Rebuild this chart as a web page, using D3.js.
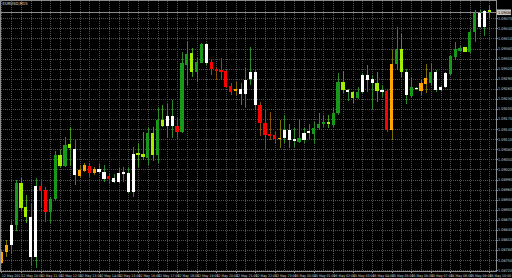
<!DOCTYPE html>
<html>
<head>
<meta charset="utf-8">
<script src="https://cdn.jsdelivr.net/npm/d3@7/dist/d3.min.js"></script>
<style>
  html, body { margin: 0; padding: 0; background: #000; }
  svg { display: block; }
  text { font-family: "Liberation Sans Narrow", "DejaVu Sans Condensed", "Liberation Sans", Arial, sans-serif; }
</style>
</head>
<body>
<svg id="chart" width="512" height="278"></svg>
<script>
var symbol = "EURUSD,M15";

var timeLabels = [
  "12 May 2017", "12 May 10:00", "12 May 11:00", "12 May 12:00", "12 May 13:00",
  "12 May 14:00", "12 May 15:00", "12 May 16:00", "12 May 17:00", "12 May 18:00",
  "12 May 19:00", "12 May 20:00", "12 May 21:00", "12 May 22:00", "12 May 23:00",
  "15 May 00:00", "15 May 01:00", "15 May 02:00", "15 May 03:00", "15 May 04:00",
  "15 May 05:00", "15 May 06:00", "15 May 07:00", "15 May 08:00", "15 May 09:00",
  "15 May 10:00"
];

var priceTicks = [
  1.08720, 1.08750, 1.08780, 1.08810, 1.08840, 1.08870, 1.08900, 1.08930, 1.08960,
  1.08990, 1.09020, 1.09050, 1.09080, 1.09110, 1.09140, 1.09170, 1.09200, 1.09230,
  1.09260, 1.09290, 1.09320, 1.09350, 1.09380, 1.09410, 1.09440, 1.09470
];

var open = [
  1.08775, 1.08796, 1.08855, 1.08855, 1.08906, 1.08878, 1.08878, 1.08972, 1.08972, 1.08959,
  1.08894, 1.08932, 1.09031, 1.09031, 1.09083, 1.09080, 1.09019, 1.09033, 1.09031, 1.09021,
  1.09021, 1.09014, 1.09001, 1.08994, 1.09011, 1.09013, 1.09011, 1.09067, 1.09063, 1.09056,
  1.09055, 1.09062, 1.09062, 1.09150, 1.09178, 1.09178, 1.09150, 1.09133, 1.09331, 1.09309,
  1.09309, 1.09338, 1.09394, 1.09341, 1.09318, 1.09316, 1.09313, 1.09269, 1.09259, 1.09260,
  1.09286, 1.09311, 1.09311, 1.09212, 1.09159, 1.09125, 1.09122, 1.09115, 1.09138, 1.09138,
  1.09110, 1.09103, 1.09128, 1.09135, 1.09126, 1.09143, 1.09155, 1.09155, 1.09152, 1.09187,
  1.09257, 1.09257, 1.09234, 1.09234, 1.09301, 1.09301, 1.09288, 1.09254, 1.09256, 1.09253,
  1.09333, 1.09333, 1.09310, 1.09311, 1.09240, 1.09263, 1.09276, 1.09292, 1.09277, 1.09311,
  1.09266, 1.09306, 1.09304, 1.09354, 1.09374, 1.09371, 1.09371, 1.09430, 1.09487, 1.09493,
  1.09495
];

var high = [
  1.08780, 1.08810, 1.08867, 1.08989, 1.08996, 1.08944, 1.08919, 1.08996, 1.08984, 1.08967,
  1.08938, 1.09076, 1.09078, 1.09116, 1.09147, 1.09108, 1.09033, 1.09038, 1.09038, 1.09028,
  1.09036, 1.09033, 1.09006, 1.09006, 1.09024, 1.09026, 1.09027, 1.09087, 1.09099, 1.09133,
  1.09147, 1.09147, 1.09205, 1.09212, 1.09215, 1.09227, 1.09172, 1.09371, 1.09403, 1.09381,
  1.09351, 1.09396, 1.09396, 1.09346, 1.09326, 1.09351, 1.09316, 1.09277, 1.09281, 1.09277,
  1.09323, 1.09385, 1.09316, 1.09222, 1.09199, 1.09192, 1.09133, 1.09167, 1.09182, 1.09155,
  1.09143, 1.09169, 1.09143, 1.09155, 1.09162, 1.09187, 1.09182, 1.09182, 1.09205, 1.09306,
  1.09314, 1.09260, 1.09255, 1.09266, 1.09306, 1.09331, 1.09301, 1.09311, 1.09271, 1.09259,
  1.09376, 1.09445, 1.09423, 1.09318, 1.09291, 1.09266, 1.09286, 1.09335, 1.09338, 1.09316,
  1.09271, 1.09311, 1.09361, 1.09400, 1.09388, 1.09385, 1.09435, 1.09495, 1.09495, 1.09495,
  1.09510
];

var low = [
  1.08739, 1.08761, 1.08769, 1.08838, 1.08899, 1.08862, 1.08734, 1.08728, 1.08905, 1.08865,
  1.08862, 1.08929, 1.09024, 1.09028, 1.09031, 1.08974, 1.08994, 1.09013, 1.08997, 1.09004,
  1.09007, 1.08984, 1.08980, 1.08979, 1.08980, 1.08984, 1.08949, 1.08939, 1.09028, 1.09048,
  1.09033, 1.09045, 1.09038, 1.09146, 1.09113, 1.09113, 1.09110, 1.09128, 1.09271, 1.09296,
  1.09281, 1.09336, 1.09331, 1.09301, 1.09286, 1.09286, 1.09262, 1.09242, 1.09242, 1.09212,
  1.09205, 1.09271, 1.09197, 1.09120, 1.09080, 1.09108, 1.09098, 1.09083, 1.09098, 1.09083,
  1.09088, 1.09099, 1.09100, 1.09110, 1.09096, 1.09138, 1.09146, 1.09143, 1.09146, 1.09182,
  1.09249, 1.09225, 1.09217, 1.09229, 1.09247, 1.09252, 1.09199, 1.09222, 1.09235, 1.09133,
  1.09108, 1.09316, 1.09296, 1.09215, 1.09235, 1.09257, 1.09242, 1.09247, 1.09271, 1.09252,
  1.09255, 1.09263, 1.09301, 1.09346, 1.09371, 1.09369, 1.09366, 1.09400, 1.09443, 1.09417,
  1.09470
];

var close = [
  1.08743, 1.08774, 1.08795, 1.08979, 1.08979, 1.08908, 1.08761, 1.08761, 1.08957, 1.08894,
  1.08932, 1.09063, 1.09063, 1.09093, 1.09095, 1.09004, 1.09001, 1.09016, 1.09009, 1.09009,
  1.09013, 1.08992, 1.08991, 1.08984, 1.08984, 1.09008, 1.08954, 1.08954, 1.09069, 1.09066,
  1.09128, 1.09128, 1.09167, 1.09166, 1.09149, 1.09149, 1.09133, 1.09336, 1.09363, 1.09368,
  1.09341, 1.09394, 1.09338, 1.09318, 1.09313, 1.09311, 1.09266, 1.09252, 1.09254, 1.09244,
  1.09244, 1.09288, 1.09212, 1.09158, 1.09123, 1.09120, 1.09110, 1.09110, 1.09113, 1.09108,
  1.09105, 1.09113, 1.09108, 1.09130, 1.09143, 1.09155, 1.09160, 1.09162, 1.09187, 1.09281,
  1.09281, 1.09252, 1.09252, 1.09252, 1.09252, 1.09286, 1.09276, 1.09277, 1.09251, 1.09138,
  1.09138, 1.09378, 1.09378, 1.09242, 1.09265, 1.09259, 1.09255, 1.09275, 1.09311, 1.09257,
  1.09257, 1.09266, 1.09358, 1.09378, 1.09383, 1.09384, 1.09430, 1.09487, 1.09445, 1.09445,
  1.09488
];

// candle colour class from the indicator: W white, G green, L lime, O orange, R red
var colorKeys = (
  "OOWGLLWWRR" + "GGLGLWOORO" + "WWRWWWWWLL" + "GLGLWWRGGL" + "GGWRRRRROW" +
  "WWWRRRROWW" + "WGWWGGGLGG" + "LWLGWWWLWR" + "OGLWGWOOGW" + "WWGGGLGGWW" + "L"
).split("");

var bodyColor = { W: "#ffffff", G: "#17991a", L: "#a2ee00", O: "#ffa500", R: "#ff0000" };
var wickColor = { W: "#2c8a2c", G: "#2c8a2c", L: "#3f9a1c", O: "#7c7000", R: "#86500a" };

var width = 512, height = 278;
var plotRight = 496, plotBottom = 271;

var candles = open.map(function(o, i) {
  return { i: i, o: o, h: high[i], l: low[i], c: close[i], k: colorKeys[i] };
});

var svg = d3.select("#chart");
svg.append("rect").attr("width", width).attr("height", height).attr("fill", "#000");

var x = d3.scaleBand()
  .domain(d3.range(candles.length))
  .range([-0.94, 491.74])
  .paddingInner(0.34)
  .paddingOuter(0.17);

var y = d3.scaleLinear()
  .domain([1.08720, 1.09470])
  .range([270.3, 18.3]);

function cx(i) { return x(i) + x.bandwidth() / 2; }
function snap(v) { return Math.round(v) + 0.5; }

//grid
var grid = svg.append("g")
  .attr("stroke", "#525252")
  .attr("stroke-dasharray", "1,1")
  .attr("shape-rendering", "crispEdges");

grid.selectAll("line.h").data(priceTicks).enter().append("line")
  .attr("class", "h")
  .attr("x1", 1).attr("x2", plotRight)
  .attr("y1", function(d) { return snap(y(d)); })
  .attr("y2", function(d) { return snap(y(d)); });

grid.selectAll("line.v").data(d3.range(0, candles.length, 2)).enter().append("line")
  .attr("class", "v")
  .attr("y1", 1).attr("y2", plotBottom)
  .attr("x1", function(d) { return snap(cx(d)); })
  .attr("x2", function(d) { return snap(cx(d)); });

//bid line at the last close
var last = candles[candles.length - 1];
svg.append("line")
  .attr("x1", 0).attr("x2", plotRight)
  .attr("y1", snap(y(last.c))).attr("y2", snap(y(last.c)))
  .attr("stroke", "#8a8a8a")
  .attr("shape-rendering", "crispEdges");

//candles
var bars = svg.append("g").attr("shape-rendering", "crispEdges")
  .selectAll("g").data(candles).enter().append("g");

bars.append("line")
  .attr("x1", function(d) { return snap(cx(d.i)); })
  .attr("x2", function(d) { return snap(cx(d.i)); })
  .attr("y1", function(d) { return y(d.h); })
  .attr("y2", function(d) { return y(d.l); })
  .attr("stroke", function(d) { return wickColor[d.k]; });

bars.append("rect")
  .attr("x", function(d) { return x(d.i); })
  .attr("width", x.bandwidth())
  .attr("y", function(d) { return y(Math.max(d.o, d.c)); })
  .attr("height", function(d) { return Math.max(1, Math.abs(y(d.o) - y(d.c))); })
  .attr("fill", function(d) { return bodyColor[d.k]; });

//frame and axes
var frame = svg.append("g").attr("stroke", "#8c8c8c").attr("shape-rendering", "crispEdges");
frame.append("line").attr("x1", 0.5).attr("x2", 0.5).attr("y1", 0).attr("y2", plotBottom);
frame.append("line").attr("x1", 0).attr("x2", plotRight).attr("y1", 0.5).attr("y2", 0.5);
frame.append("line").attr("x1", plotRight + 0.5).attr("x2", plotRight + 0.5).attr("y1", 0).attr("y2", plotBottom + 1);
frame.append("line").attr("x1", 0).attr("x2", plotRight + 1).attr("y1", plotBottom + 0.5).attr("y2", plotBottom + 0.5);

//price labels
var priceFmt = d3.format(".5f");
svg.append("g").selectAll("text").data(priceTicks).enter().append("text")
  .attr("x", 498)
  .attr("y", function(d) { return y(d); })
  .attr("dy", "0.35em")
  .attr("font-size", 3.8)
  .attr("fill", "#cfcfcf")
  .text(priceFmt);

svg.append("g").attr("stroke", "#8c8c8c").attr("shape-rendering", "crispEdges")
  .selectAll("line").data(priceTicks).enter().append("line")
  .attr("x1", plotRight).attr("x2", plotRight + 2)
  .attr("y1", function(d) { return snap(y(d)); })
  .attr("y2", function(d) { return snap(y(d)); });

//current price tag
var tag = svg.append("g").attr("transform", "translate(0," + y(last.c) + ")");
tag.append("rect")
  .attr("x", 497).attr("y", -2.8).attr("width", 14).attr("height", 5.6)
  .attr("fill", "#c4c4c4");
tag.append("text")
  .attr("x", 498).attr("dy", "0.35em")
  .attr("font-size", 3.8)
  .attr("fill", "#000")
  .text(priceFmt(last.c));

//time labels, one every 4 bars
var timeAxis = svg.append("g");
timeAxis.selectAll("text").data(timeLabels).enter().append("text")
  .attr("x", function(d, i) { return cx(i * 4) + 0.3; })
  .attr("y", 276.6)
  .attr("font-size", 3.5)
  .attr("fill", "#cfcfcf")
  .text(function(d) { return d; });

timeAxis.selectAll("line").data(timeLabels).enter().append("line")
  .attr("x1", function(d, i) { return snap(cx(i * 4)); })
  .attr("x2", function(d, i) { return snap(cx(i * 4)); })
  .attr("y1", plotBottom).attr("y2", plotBottom + 2)
  .attr("stroke", "#8c8c8c")
  .attr("shape-rendering", "crispEdges");

//symbol caption
svg.append("text")
  .attr("x", 2.5).attr("y", 5.2)
  .attr("font-size", 4.2)
  .attr("fill", "#e0e0e0")
  .text(symbol);
</script>
</body>
</html>
